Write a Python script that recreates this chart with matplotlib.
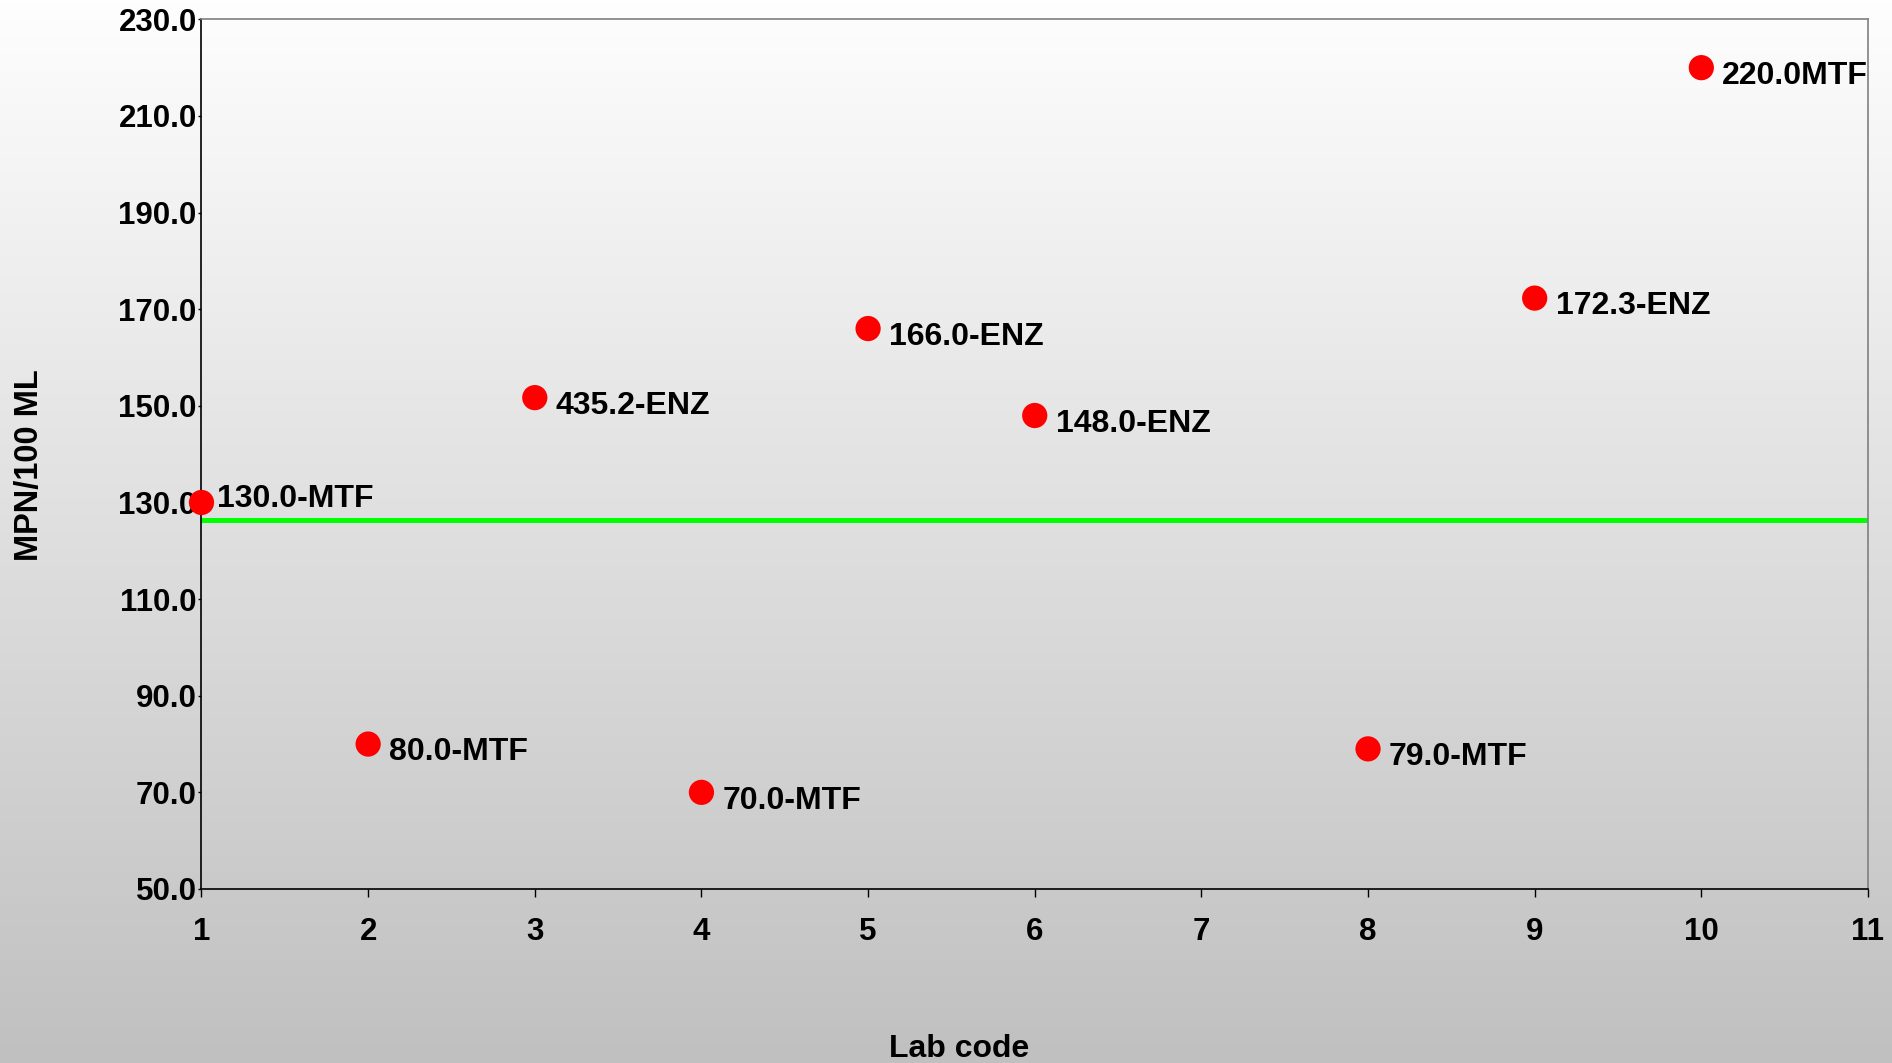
import numpy as np
import matplotlib
matplotlib.use("Agg")
import matplotlib.pyplot as plt
from matplotlib.colors import LinearSegmentedColormap

plt.rcParams['font.family'] = ['Liberation Sans', 'DejaVu Sans']
plt.rcParams['font.weight'] = 'bold'

# ---- data ----
lab_codes = [1, 2, 3, 4, 5, 6, 8, 9, 10]
mpn_values = [130.0, 80.0, 151.7, 70.0, 166.0, 148.0, 79.0, 172.3, 220.0]
point_labels = ["130.0-MTF", "80.0-MTF", "435.2-ENZ", "70.0-MTF", "166.0-ENZ",
                "148.0-ENZ", "79.0-MTF", "172.3-ENZ", "220.0MTF"]
reference_value = 126.4
x_ticks = list(range(1, 12))
y_ticks = [50, 70, 90, 110, 130, 150, 170, 190, 210, 230]

# label placement (style, in points)
default_offset = (15, -6)
offset_overrides = {"130.0-MTF": (11.5, 2.5)}

fig = plt.figure(figsize=(18.92, 10.63), dpi=100)

# background gradient
bg = fig.add_axes([0, 0, 1, 1], zorder=-10)
grad = np.linspace(0, 1, 256).reshape(-1, 1)
cmap = LinearSegmentedColormap.from_list("bg", ["#fefefe", "#c0c0c0"])
bg.imshow(grad, aspect='auto', cmap=cmap, extent=[0, 1, 0, 1], origin='upper')
bg.set_axis_off()

ax = fig.add_axes([0.1065, 0.1637, 0.8808, 0.8181])
ax.set_facecolor('none')

ax.axhline(reference_value, color='#00ff00', lw=3.6, zorder=2)
ax.scatter(lab_codes, mpn_values, s=330, color='#ff0000', edgecolors='none',
           zorder=4, clip_on=False)
for x, y, t in zip(lab_codes, mpn_values, point_labels):
    ax.annotate(t, (x, y), xytext=offset_overrides.get(t, default_offset),
                textcoords='offset points',
                ha='left', va='center', fontsize=23, fontweight='bold',
                color='black', zorder=5)

ax.set_xlim(1, 11)
ax.set_ylim(50, 230)
ax.set_xticks(x_ticks)
ax.set_yticks(y_ticks)
ax.set_yticklabels([f"{v:.1f}" for v in y_ticks])
ax.tick_params(axis='x', direction='out', length=6, width=1, pad=14,
               labelsize=22.5, colors='black')
ax.tick_params(axis='y', direction='out', length=2.5, width=1, pad=1,
               labelsize=22.5, colors='black')
for lbl in ax.get_xticklabels() + ax.get_yticklabels():
    lbl.set_fontweight('bold')

for s in ['left', 'bottom']:
    ax.spines[s].set_color('#000000')
    ax.spines[s].set_linewidth(1.2)
for s in ['top', 'right']:
    ax.spines[s].set_color('#808080')
    ax.spines[s].set_linewidth(1.2)

ax.set_xlabel("Lab code", fontsize=23, fontweight='bold', va='center')
ax.xaxis.set_label_coords(0.4547, -0.1840)
ax.set_ylabel("MPN/100 ML", fontsize=23.5, fontweight='bold', va='center')
ax.yaxis.set_label_coords(-0.1030, 0.487)

fig.savefig("out.png", dpi=100)
